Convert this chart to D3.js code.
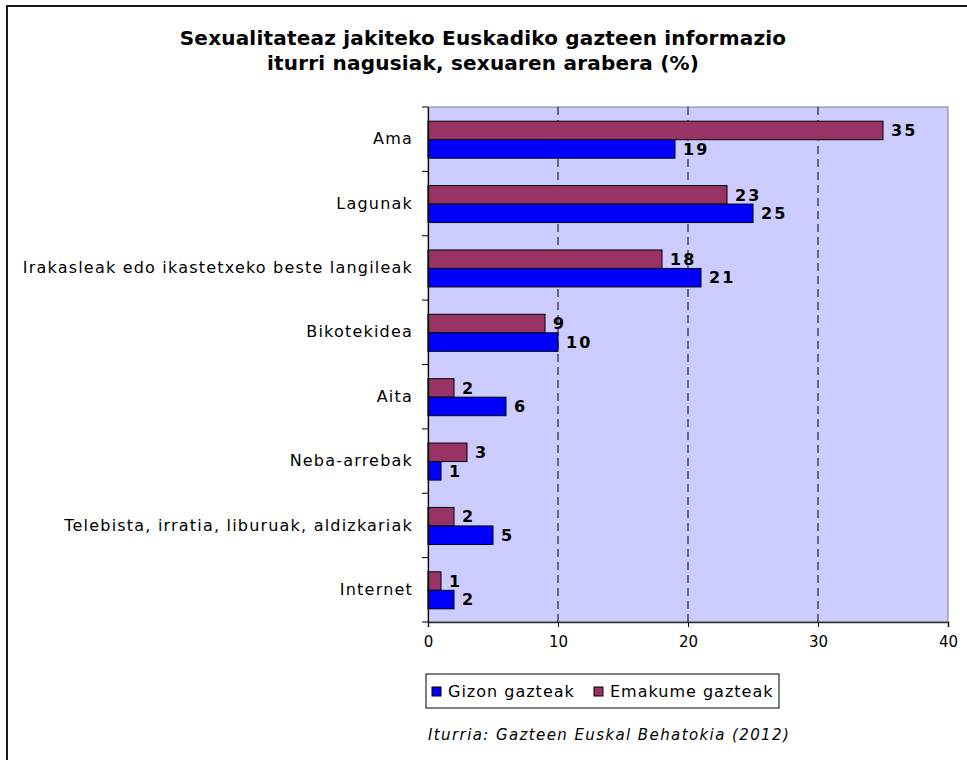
<!DOCTYPE html>
<html>
<head>
<meta charset="utf-8">
<script src="https://cdn.jsdelivr.net/npm/d3@7"></script>
<style>
  body { margin: 0; background: #fff; }
  svg { display: block; font-family: "DejaVu Sans", Verdana, sans-serif; }
</style>
</head>
<body>
<svg id="chart" width="967" height="760"></svg>
<script>
const categories = [
  'Ama',
  'Lagunak',
  'Irakasleak edo ikastetxeko beste langileak',
  'Bikotekidea',
  'Aita',
  'Neba-arrebak',
  'Telebista, irratia, liburuak, aldizkariak',
  'Internet'
];
const emakume = [35, 23, 18, 9, 2, 3, 2, 1];
const gizon = [19, 25, 21, 10, 6, 1, 5, 2];
const seriesNames = ['Gizon gazteak', 'Emakume gazteak'];
const xTicks = [0, 10, 20, 30, 40];

const FONT = '"DejaVu Sans", Verdana, sans-serif';
const svg = d3.select('#chart');
const margin = { top: 107, left: 428, right: 948, bottom: 622 };
const width = margin.right - margin.left;
const height = margin.bottom - margin.top;

// outer frame (runs past the right and bottom edges)
svg.append('rect')
  .attr('x', 7).attr('y', 6)
  .attr('width', 1000).attr('height', 1000)
  .attr('fill', 'none').attr('stroke', '#000').attr('stroke-width', 1.8);

// title
const title = svg.append('text')
  .attr('text-anchor', 'middle')
  .attr('font-weight', 'bold')
  .attr('font-size', 20)
  .attr('letter-spacing', 0.2);
title.append('tspan').attr('x', 483).attr('y', 45).text('Sexualitateaz jakiteko Euskadiko gazteen informazio');
title.append('tspan').attr('x', 483).attr('y', 70).text('iturri nagusiak, sexuaren arabera (%)');

const g = svg.append('g').attr('transform', `translate(${margin.left},${margin.top})`);

const x = d3.scaleLinear().domain([0, 40]).range([0, width]);
const y = d3.scaleBand().domain(categories).range([0, height]);

g.append('rect')
  .attr('width', width).attr('height', height)
  .attr('fill', '#CCCCFF').attr('stroke', '#808080');

// gridlines
g.selectAll('.grid')
  .data(xTicks.filter(d => d > 0 && d < 40))
  .enter().append('line')
  .attr('x1', d => x(d)).attr('x2', d => x(d))
  .attr('y1', 0).attr('y2', height)
  .attr('stroke', '#000').attr('stroke-dasharray', '8,5');

const barH = 18.5;
const rows = categories.map((c, i) => ({ cat: c, em: emakume[i], gi: gizon[i] }));

function drawBars(key, color, offset) {
  g.selectAll('.bar-' + key)
    .data(rows)
    .enter().append('rect')
    .attr('x', 0)
    .attr('y', d => y(d.cat) + offset)
    .attr('width', d => x(d[key]))
    .attr('height', barH)
    .attr('fill', color)
    .attr('stroke', '#000')
    .attr('stroke-width', 1);

  g.selectAll('.lbl-' + key)
    .data(rows)
    .enter().append('text')
    .attr('x', d => x(d[key]) + 8)
    .attr('y', d => y(d.cat) + offset + barH / 2)
    .attr('dy', '0.36em')
    .attr('font-size', 16)
    .attr('font-weight', 'bold')
    .attr('letter-spacing', 2)
    .text(d => d[key]);
}
const top0 = (y.bandwidth() - 2 * barH) / 2 + 0.5;
drawBars('em', '#993366', top0);
drawBars('gi', '#0000FF', top0 + barH);

// axes
const xAxis = g.append('g')
  .attr('transform', `translate(0,${height})`)
  .call(d3.axisBottom(x).tickValues(xTicks).tickSize(5).tickPadding(9));
xAxis.select('.domain').attr('stroke', '#333').attr('stroke-width', 1.5);
xAxis.selectAll('.tick line').attr('stroke', '#000');
xAxis.attr('font-size', 15).attr('font-family', FONT);
xAxis.selectAll('text').attr('fill', '#000');

const yAxis = g.append('g').call(d3.axisLeft(y).tickSize(0).tickPadding(15));
yAxis.select('.domain').attr('stroke', '#000').attr('stroke-width', 1.2);
yAxis.attr('font-size', 16).attr('font-family', FONT);
yAxis.selectAll('text').attr('fill', '#000').attr('letter-spacing', 1.2);

// band boundary ticks on category axis
g.selectAll('.ytick')
  .data(d3.range(categories.length + 1))
  .enter().append('line')
  .attr('x1', -6).attr('x2', 0)
  .attr('y1', i => i * y.step()).attr('y2', i => i * y.step())
  .attr('stroke', '#000');

// legend
const legend = svg.append('g').attr('transform', 'translate(426,674)');
legend.append('rect')
  .attr('width', 353).attr('height', 34)
  .attr('fill', '#fff').attr('stroke', '#000');
const legItems = [
  { name: seriesNames[0], color: '#0000FF', x: 6 },
  { name: seriesNames[1], color: '#993366', x: 168 }
];
legItems.forEach(it => {
  legend.append('rect')
    .attr('x', it.x).attr('y', 13)
    .attr('width', 9).attr('height', 9)
    .attr('fill', it.color).attr('stroke', '#000');
  legend.append('text')
    .attr('x', it.x + 16).attr('y', 17)
    .attr('dy', '0.36em')
    .attr('font-size', 16)
    .attr('letter-spacing', 1.0)
    .text(it.name);
});

// source
svg.append('text')
  .attr('x', 428).attr('y', 740)
  .attr('font-size', 15)
  .attr('font-style', 'italic')
  .attr('letter-spacing', 1.4)
  .text('Iturria: Gazteen Euskal Behatokia (2012)');
</script>
</body>
</html>
